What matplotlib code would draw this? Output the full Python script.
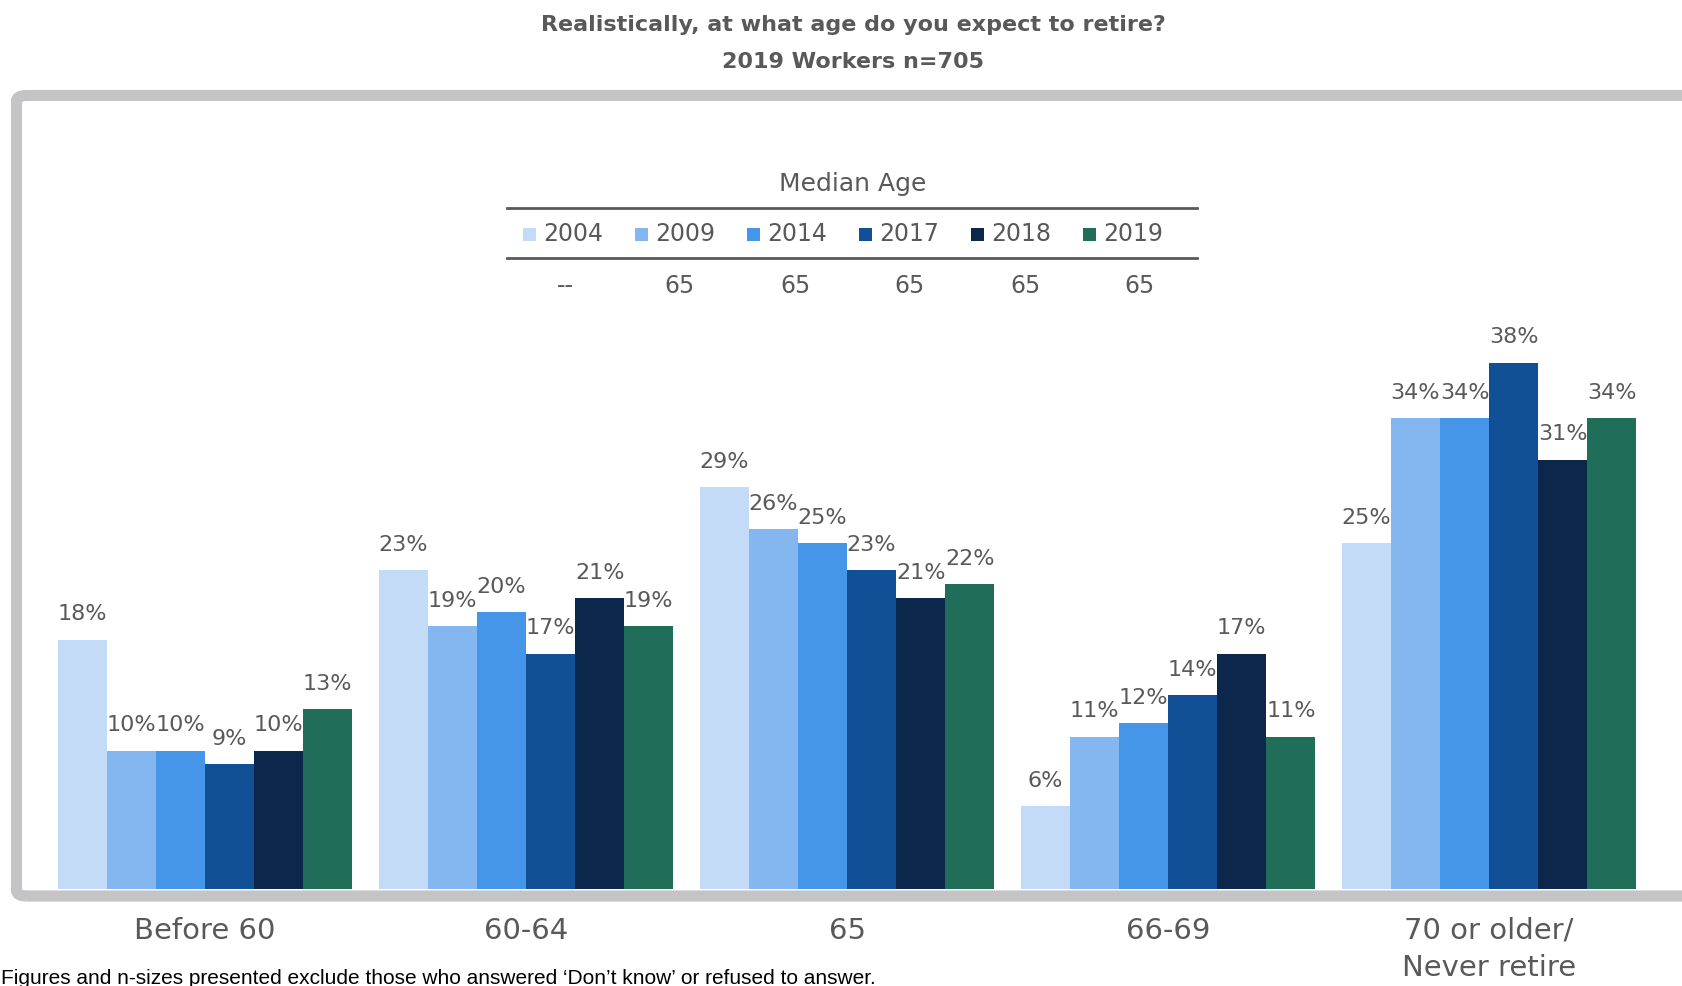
import numpy as np
import matplotlib
matplotlib.use('Agg')
import matplotlib.pyplot as plt
from matplotlib.patches import FancyBboxPatch, Rectangle
from matplotlib.lines import Line2D

categories = ['Before 60', '60-64', '65', '66-69', '70 or older/\nNever retire']
years = ['2004', '2009', '2014', '2017', '2018', '2019']
values = {
    '2004': [18, 23, 29, 6, 25],
    '2009': [10, 19, 26, 11, 34],
    '2014': [10, 20, 25, 12, 34],
    '2017': [9, 17, 23, 14, 38],
    '2018': [10, 21, 21, 17, 31],
    '2019': [13, 19, 22, 11, 34],
}
median_age = ['--', '65', '65', '65', '65', '65']
colors = ['#C3DBF7', '#84B6EF', '#4595E8', '#114F97', '#0B284C', '#206D59']

W, H = 1682, 986
grey = '#595959'

def fx(px):
    return px / W

def fy(py):
    return 1 - py / H

fig = plt.figure(figsize=(W / 100, H / 100), dpi=100)

# grey rounded frame (runs off the right edge)
frame = FancyBboxPatch((fx(16.5), fy(896)), fx(1720) - fx(16.5), fy(95.5) - fy(896),
                       boxstyle='round,pad=0,rounding_size=0.006',
                       transform=fig.transFigure, fill=False,
                       edgecolor='#C4C3C5', linewidth=8)
fig.add_artist(frame)

ax = fig.add_axes([fx(22), fy(889), fx(1682) - fx(22), fy(101) - fy(889)])
ax.set_xlim(-0.570, 4.601)
ax.set_ylim(0, 56.9)

x = np.arange(len(categories))
bw = 0.153
for i, yr in enumerate(years):
    pos = x + (i - 2.5) * bw
    bars = ax.bar(pos, values[yr], width=bw, color=colors[i], linewidth=0)
    for b, v in zip(bars, values[yr]):
        ax.annotate(f'{v}%', (b.get_x() + b.get_width() / 2, v),
                    xytext=(0, 11), textcoords='offset points',
                    ha='center', va='bottom', fontsize=16, color=grey)

ax.set_xticks(x)
ax.set_xticklabels(categories, fontsize=21, color=grey, linespacing=1.4)
ax.tick_params(axis='x', length=0, pad=20)
ax.set_yticks([])
for s in ax.spines.values():
    s.set_visible(False)
ax.patch.set_alpha(0)

# titles
fig.text(fx(853), fy(25), 'Realistically, at what age do you expect to retire?',
         ha='center', va='center', fontsize=16, fontweight='bold', color=grey)
fig.text(fx(853), fy(62), '2019 Workers n=705',
         ha='center', va='center', fontsize=16, fontweight='bold', color=grey)

# median age table / legend
fig.text(fx(853), fy(184), 'Median Age', ha='center', va='center', fontsize=18, color=grey)
for yy in (208, 258):
    fig.add_artist(Line2D([fx(507), fx(1197)], [fy(yy), fy(yy)],
                          transform=fig.transFigure, color=grey, linewidth=2))
for i, yr in enumerate(years):
    left = 523 + 112 * i
    fig.add_artist(Rectangle((fx(left), fy(241)), fx(13), fy(228) - fy(241),
                             transform=fig.transFigure, color=colors[i], linewidth=0))
    fig.text(fx(left + 20), fy(234), yr, ha='left', va='center', fontsize=17, color=grey)
    fig.text(fx(565 + 115 * i), fy(286), median_age[i], ha='center', va='center',
             fontsize=17, color=grey)

fig.text(fx(1), fy(984), 'Figures and n-sizes presented exclude those who answered \u2018Don\u2019t know\u2019 or refused to answer.',
         ha='left', va='baseline', fontsize=15, family='Liberation Sans', color='black')

fig.savefig('out.png', dpi=100)
